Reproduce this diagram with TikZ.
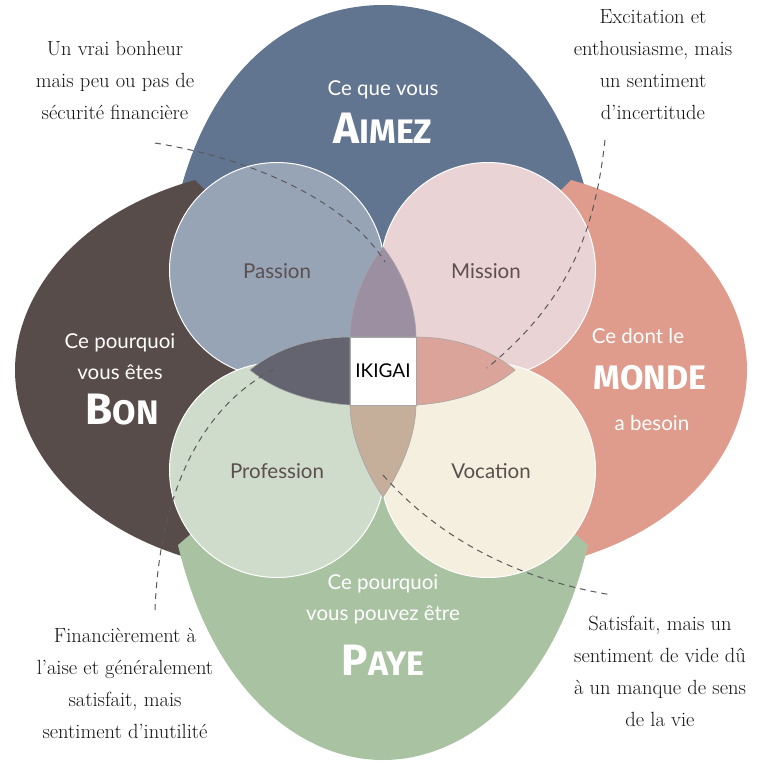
\documentclass[tikz,border=0pt]{standalone}
\usepackage{fontspec}
\setmainfont{Latin Modern Roman}
\newfontfamily\lab{Lato}
\newfontfamily\bigfnt{Fira Sans}
\definecolor{cTop}{HTML}{627590}
\definecolor{cLeft}{HTML}{574C4A}
\definecolor{cRight}{HTML}{DF9C8C}
\definecolor{cBot}{HTML}{A9C3A2}
\definecolor{cPas}{HTML}{97A4B6}
\definecolor{cMis}{HTML}{EAD3D4}
\definecolor{cPro}{HTML}{CFDCCB}
\definecolor{cVoc}{HTML}{F5EFDF}
\definecolor{lTop}{HTML}{9B8FA1}
\definecolor{lLeft}{HTML}{636470}
\definecolor{lRight}{HTML}{DBA49A}
\definecolor{lBot}{HTML}{C5AE9A}
\definecolor{txt}{HTML}{5B4F4F}
\tikzset{
  circ/.style={draw=white,line width=1pt},
  lens/.style={draw=gray!70,line width=0.6pt},
  note/.style={align=center,font=\fontsize{20.5}{32}\selectfont,text=black!92},
  clab/.style={font=\lab\fontsize{20.5}{24}\selectfont,text=txt},
  plab/.style={font=\lab\fontsize{20.5}{31}\selectfont,text=white,align=center},
  bigw/.style={font=\bigfnt\bfseries\fontsize{34}{40}\selectfont,text=white},
  dline/.style={draw=black!65,dashed,dash pattern=on 6pt off 5pt,line width=1pt}
}
\begin{document}
\begin{tikzpicture}[x=1pt,y=-1pt]
\useasboundingbox (0,0) rectangle (768,768);
\fill[white] (0,0) rectangle (768,768);
% petals
\fill[cTop] (383,370) -- (178,200) .. controls (212,60) and (300,5) .. (383,5) .. controls (466,5) and (554,60) .. (588,200) -- cycle;
\fill[cLeft] (383,370) -- (195,180) .. controls (70,215) and (15,300) .. (15,370) .. controls (15,440) and (70,525) .. (195,560) -- cycle;
\fill[cRight] (383,370) -- (571,180) .. controls (696,215) and (747,300) .. (747,370) .. controls (747,440) and (696,525) .. (571,560) -- cycle;
\fill[cBot] (383,370) -- (178,545) .. controls (212,690) and (300,760) .. (383,760) .. controls (466,760) and (554,690) .. (588,545) -- cycle;
% circles
\path[circ,fill=cPas] (277,270) circle (107.5);
\path[circ,fill=cMis] (488,270) circle (107.5);
\path[circ,fill=cPro] (277,470) circle (107.5);
\path[circ,fill=cVoc] (488,470) circle (107.5);
% lenses
\path[lens,fill=lTop] (383,247) .. controls (405,275) and (416,310) .. (416,337) -- (350,337) .. controls (350,310) and (361,275) .. cycle;
\path[lens,fill=lBot] (383,497) .. controls (361,465) and (350,430) .. (350,405) -- (416,405) .. controls (416,430) and (405,465) .. cycle;
\path[lens,fill=lLeft] (250,370) .. controls (280,345) and (320,337) .. (350,337) -- (350,405) .. controls (320,403) and (280,395) .. cycle;
\path[lens,fill=lRight] (515,370) .. controls (485,345) and (446,337) .. (416,337) -- (416,405) .. controls (446,403) and (485,395) .. cycle;
\node[draw=gray!70,fill=white,minimum width=66pt,minimum height=68pt,inner sep=0pt] (ik) at (383,371) {};
\node[font=\lab\fontsize{19}{20}\selectfont] (ikt) at (383,371) {IKIGAI};
% dashed lines
\coordinate (d1a) at (155,143); \coordinate (d1b) at (385,262);
\draw[dline] (d1a) .. controls (260,160) and (350,205) .. (d1b);
\coordinate (d2a) at (605,140); \coordinate (d2b) at (487,368);
\draw[dline] (d2a) .. controls (595,230) and (570,300) .. (d2b);
\coordinate (d3a) at (155,610); \coordinate (d3b) at (277,368);
\draw[dline] (d3a) .. controls (160,480) and (210,400) .. (d3b);
\coordinate (d4a) at (383,475); \coordinate (d4b) at (612,595);
\draw[dline] (d4a) .. controls (440,540) and (520,580) .. (d4b);
% circle labels
\node[clab] (pas) at (277,271) {Passion};
\node[clab] (mis) at (486,271) {Mission};
\node[clab] (pro) at (277,471) {Profession};
\node[clab] (voc) at (491,471) {Vocation};
% petal labels
\node[plab] (t1) at (383,90) {Ce que vous};
\node[bigw] (t2) at (383,128) {{\fontsize{44}{44}\selectfont A}IMEZ};
\node[plab] (l1) at (120,357) {Ce pourquoi\\vous êtes};
\node[bigw] (l2) at (122,410) {{\fontsize{44}{44}\selectfont B}ON};
\node[plab] (r1) at (638,336) {Ce dont le};
\node[bigw] (r2) at (650,378) {MONDE};
\node[plab] (r3) at (652,423) {a besoin};
\node[plab] (b1) at (383,599) {Ce pourquoi\\vous pouvez être};
\node[bigw] (b2) at (383,660) {{\fontsize{44}{44}\selectfont P}AYE};
% notes
\node[note] (n1) at (115,80) {Un vrai bonheur\\mais peu ou pas de\\sécurité financière};
\node[note] (n2) at (653,65) {Excitation et\\enthousiasme, mais\\un sentiment\\d'incertitude};
\node[note] (n3) at (125,683) {Financièrement à\\l'aise et généralement\\satisfait, mais\\sentiment d'inutilité};
\node[note] (n4) at (660,671) {Satisfait, mais un\\sentiment de vide dû\\à un manque de sens\\de la vie};
\end{tikzpicture}
\end{document}
